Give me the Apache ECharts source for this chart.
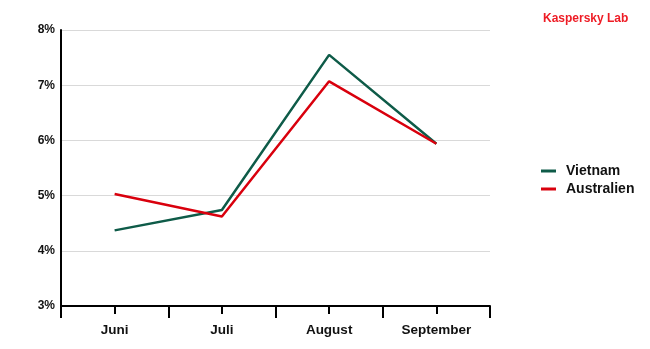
<!DOCTYPE html>
<html>
<head>
<meta charset="utf-8">
<script src="https://cdn.jsdelivr.net/npm/echarts@6/dist/echarts.min.js"></script>
<style>
  html, body { margin: 0; padding: 0; background: #fff; }
  #chart { width: 650px; height: 349px; }
</style>
</head>
<body>
<div id="chart"></div>
<script>
// Monthly shares (%) per country
const months = ['Juni', 'Juli', 'August', 'September'];
const vietnam = [4.37, 4.74, 7.55, 5.94];
const australien = [5.03, 4.62, 7.07, 5.94];

const FONT = '"Liberation Sans", Arial, sans-serif';
const chart = echarts.init(document.getElementById('chart'));

chart.setOption({
  animation: false,
  title: {
    text: 'Kaspersky Lab',
    left: 538, top: 8,
    textStyle: { color: '#ee1c25', fontSize: 12, fontWeight: 'bold', fontFamily: FONT }
  },
  legend: {
    orient: 'vertical',
    left: 536, top: 159,
    itemWidth: 15, itemHeight: 3, itemGap: 4,
    icon: 'rect',
    textStyle: { color: '#111', fontSize: 14, fontWeight: 'bold', fontFamily: FONT, padding: [0, 0, 0, 5] },
    data: ['Vietnam', 'Australien']
  },
  grid: { left: 61, right: 160, top: 30, bottom: 43 },
  xAxis: [
    {
      type: 'category',
      data: months,
      boundaryGap: true,
      axisLine: { lineStyle: { color: '#000', width: 2 } },
      axisTick: { show: true, alignWithLabel: false, length: 12, lineStyle: { color: '#000', width: 2 } },
      axisLabel: { margin: 17, color: '#111', fontSize: 13.5, fontWeight: 'bold', fontFamily: FONT },
      splitLine: { show: false }
    },
    {
      type: 'category',
      data: months,
      position: 'bottom',
      boundaryGap: true,
      axisLine: { show: false },
      axisTick: { show: true, alignWithLabel: true, length: 8, lineStyle: { color: '#000', width: 2 } },
      axisLabel: { show: false },
      splitLine: { show: false }
    }
  ],
  yAxis: {
    type: 'value',
    min: 3, max: 8, interval: 1,
    axisLine: { show: true, lineStyle: { color: '#000', width: 2 } },
    axisTick: { show: false },
    axisLabel: { formatter: '{value}%', margin: 6, color: '#111', fontSize: 12, fontWeight: 'bold', fontFamily: FONT },
    splitLine: { lineStyle: { color: '#d9d9d9', width: 1 } }
  },
  series: [
    {
      name: 'Vietnam', type: 'line', data: vietnam,
      symbol: 'none', color: '#0e5b48',
      lineStyle: { width: 2.5, color: '#0e5b48' }
    },
    {
      name: 'Australien', type: 'line', data: australien,
      symbol: 'none', color: '#d9000d',
      lineStyle: { width: 2.5, color: '#d9000d' }
    }
  ]
});
</script>
</body>
</html>
